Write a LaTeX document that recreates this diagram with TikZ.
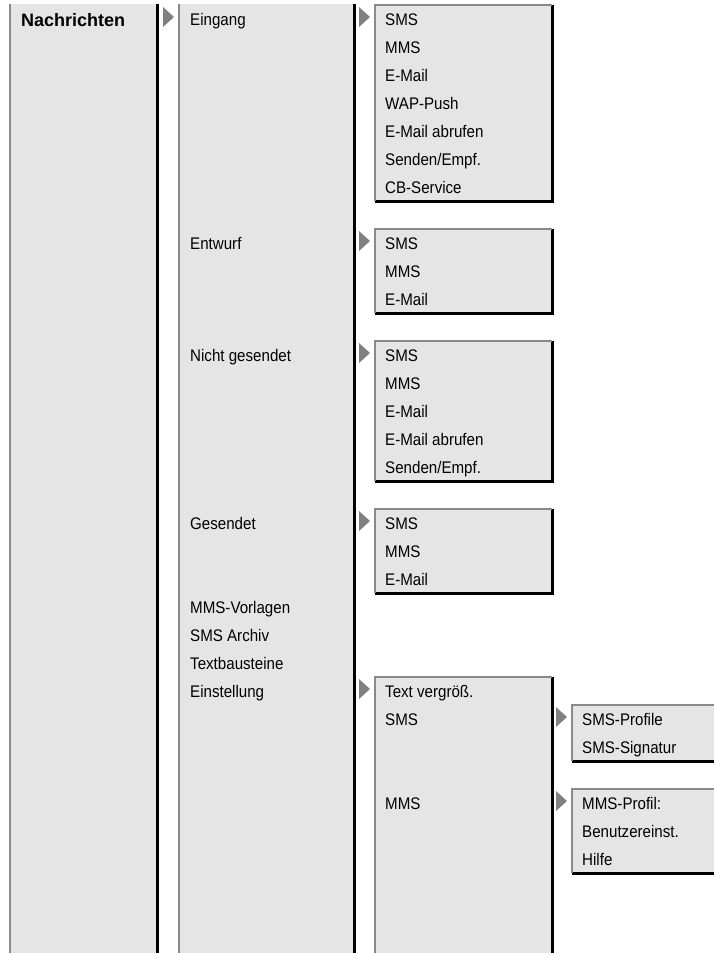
\documentclass[tikz,border=0pt]{standalone}
\usepackage{fontspec}
\setmainfont{Liberation Sans}[FakeStretch=0.9]
\newfontfamily\headfont{Liberation Sans}
\usepackage{tikz}
\usetikzlibrary{positioning, calc}

\definecolor{boxfill}{HTML}{E5E5E5}
\definecolor{lightedge}{HTML}{8A8A8A}
\definecolor{tipgray}{HTML}{808080}

\begin{document}
\begin{tikzpicture}[x=1pt, y=-1pt,
        font=\fontsize{16.8}{20}\selectfont,
        menubox/.style={rectangle, fill=boxfill, anchor=north west, inner sep=0pt},
        litline/.style={draw=lightedge, line width=2pt},
        darkline/.style={draw=black, line width=3pt},
        entry/.style={anchor=base west, inner sep=0pt},
        headentry/.style={entry, font=\headfont\bfseries\fontsize{18}{20}\selectfont},
        pointer/.style={fill=tipgray}
    ]
        \useasboundingbox (0,0) rectangle (714,953);

        % columns running down the page
        \node[menubox, minimum width=147pt, minimum height=949pt] (col1) at (10,4) {};
        \node[menubox, minimum width=175pt, minimum height=949pt] (col2) at (179,4) {};
        \node[menubox, minimum width=177pt, minimum height=276pt] (col3) at (375,677) {};
        \draw[darkline] (col1.north east) -- (col1.south east);
        \draw[litline] (col1.south west) -- (col1.north west);
        \draw[darkline] (col2.north east) -- (col2.south east);
        \draw[litline] (col2.south west) -- (col2.north west);
        \draw[darkline] (col3.north east) -- (col3.south east);
        \draw[litline] (col3.south west) |- (col3.north east);

        % submenu boxes (the last two run past the page edge)
        \node[menubox, minimum width=177pt, minimum height=196pt] (eingsub) at (375,5) {};
        \node[menubox, minimum width=177pt, minimum height=84pt] (entwsub) at (375,229) {};
        \node[menubox, minimum width=177pt, minimum height=140pt] (nichtsub) at (375,341) {};
        \node[menubox, minimum width=177pt, minimum height=84pt] (gesub) at (375,509) {};
        \node[menubox, minimum width=148pt, minimum height=56pt] (smssub) at (572,705) {};
        \node[menubox, minimum width=148pt, minimum height=84pt] (mmssub) at (572,789) {};
        \draw[darkline] (eingsub.north east) |- (eingsub.south west);
        \draw[litline] (eingsub.south west) |- (eingsub.north east);
        \draw[darkline] (entwsub.north east) |- (entwsub.south west);
        \draw[litline] (entwsub.south west) |- (entwsub.north east);
        \draw[darkline] (nichtsub.north east) |- (nichtsub.south west);
        \draw[litline] (nichtsub.south west) |- (nichtsub.north east);
        \draw[darkline] (gesub.north east) |- (gesub.south west);
        \draw[litline] (gesub.south west) |- (gesub.north east);
        \draw[darkline] (smssub.north east) |- (smssub.south west);
        \draw[litline] (smssub.south west) |- (smssub.north east);
        \draw[darkline] (mmssub.north east) |- (mmssub.south west);
        \draw[litline] (mmssub.south west) |- (mmssub.north east);

        % pointers
        \fill[pointer] ([shift={(-16pt,-3pt)}]col2.north west) -- ++(11,10) -- ++(-11,10) -- cycle;
        \fill[pointer] ([shift={(-16pt,-2pt)}]eingsub.north west) -- ++(11,10) -- ++(-11,10) -- cycle;
        \fill[pointer] ([shift={(-16pt,-2pt)}]entwsub.north west) -- ++(11,10) -- ++(-11,10) -- cycle;
        \fill[pointer] ([shift={(-16pt,-2pt)}]nichtsub.north west) -- ++(11,10) -- ++(-11,10) -- cycle;
        \fill[pointer] ([shift={(-16pt,-2pt)}]gesub.north west) -- ++(11,10) -- ++(-11,10) -- cycle;
        \fill[pointer] ([shift={(-16pt,-2pt)}]col3.north west) -- ++(11,10) -- ++(-11,10) -- cycle;
        \fill[pointer] ([shift={(-16pt,-2pt)}]smssub.north west) -- ++(11,10) -- ++(-11,10) -- cycle;
        \fill[pointer] ([shift={(-16pt,-2pt)}]mmssub.north west) -- ++(11,10) -- ++(-11,10) -- cycle;

        % first and second level
        \node[headentry] (nachr) at (21,26) {Nachrichten};
        \node[entry] (eingang) at (190,25) {Eingang};
        \node[entry] (entwurf) at (190,249) {Entwurf};
        \node[entry] (nichtges) at (190,361) {Nicht gesendet};
        \node[entry] (gesendet) at (190,529) {Gesendet};
        \node[entry] (vorlagen) at (190,613) {MMS-Vorlagen};
        \node[entry] (archiv) at (190,641) {SMS Archiv};
        \node[entry] (bausteine) at (190,669) {Textbausteine};
        \node[entry] (einst) at (190,697) {Einstellung};

        % Eingang
        \node[entry] (ein-sms) at (385,25) {SMS};
        \node[entry] (ein-mms) at (385,53) {MMS};
        \node[entry] (ein-mail) at (385,81) {E-Mail};
        \node[entry] (ein-wap) at (385,109) {WAP-Push};
        \node[entry] (ein-abruf) at (385,137) {E-Mail abrufen};
        \node[entry] (ein-send) at (385,165) {Senden/Empf.};
        \node[entry] (ein-cb) at (385,193) {CB-Service};

        % Entwurf
        \node[entry] (ent-sms) at (385,249) {SMS};
        \node[entry] (ent-mms) at (385,277) {MMS};
        \node[entry] (ent-mail) at (385,305) {E-Mail};

        % Nicht gesendet
        \node[entry] (nig-sms) at (385,361) {SMS};
        \node[entry] (nig-mms) at (385,389) {MMS};
        \node[entry] (nig-mail) at (385,417) {E-Mail};
        \node[entry] (nig-abruf) at (385,445) {E-Mail abrufen};
        \node[entry] (nig-send) at (385,473) {Senden/Empf.};

        % Gesendet
        \node[entry] (ges-sms) at (385,529) {SMS};
        \node[entry] (ges-mms) at (385,557) {MMS};
        \node[entry] (ges-mail) at (385,585) {E-Mail};

        % Einstellung
        \node[entry] (est-text) at (385,697) {Text vergröß.};
        \node[entry] (est-sms) at (385,725) {SMS};
        \node[entry] (est-mms) at (385,809) {MMS};
        \node[entry] (sms-prof) at (582,725) {SMS-Profile};
        \node[entry] (sms-sig) at (582,753) {SMS-Signatur};
        \node[entry] (mms-prof) at (582,809) {MMS-Profil:};
        \node[entry] (mms-user) at (582,837) {Benutzereinst.};
        \node[entry] (mms-help) at (582,865) {Hilfe};
    \end{tikzpicture}
\end{document}
